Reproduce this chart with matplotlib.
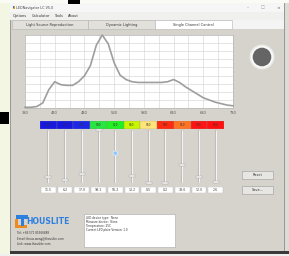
import matplotlib
matplotlib.use('Agg')
import matplotlib.pyplot as plt
from matplotlib.patches import Rectangle, Circle
import numpy as np

W, H = 289, 256

# ---------------- data ----------------
wavelengths = [380, 390, 400, 410, 420, 430, 440, 450, 460, 470, 480, 490, 500,
               510, 520, 530, 540, 550, 560, 570, 580, 590, 600, 610, 620, 630,
               640, 650, 660, 670, 680, 690, 700, 710, 720, 730]
intensity = [0.01, 0.01, 0.02, 0.07, 0.25, 0.36, 0.32, 0.31, 0.31, 0.36, 0.44,
             0.58, 0.86, 1.00, 0.88, 0.62, 0.45, 0.39, 0.36, 0.35, 0.35, 0.35,
             0.35, 0.35, 0.36, 0.39, 0.35, 0.29, 0.24, 0.19, 0.14, 0.11, 0.08,
             0.06, 0.04, 0.03]
x_tick_labels = ['380', '430', '480', '530', '580', '630', '680', '730']
channel_labels = ['420', '450', '470', '500', '520', '540', '560', '590', '610', '630', '660']
channel_colors = ['#1818e0', '#1818e0', '#1c28e6', '#28e640', '#22f022', '#c8f500',
                  '#ffe47a', '#ff2a10', '#ff7424', '#ff1414', '#ff1010']
channel_values = [11.5, 6.2, 17.0, 99.1, 56.2, 13.2, 0.5, 0.2, 33.6, 12.0, 2.6]
selected_channel = 4
menu_items = ['Options', 'Calculator', 'Tools', 'About']
tab_names = ['Light Source Reproduction', 'Dynamic Lighting', 'Single Channel Control']
info_lines = ['LED device type:  None', 'Measure device:  None',
              'Temperature: 25C', 'Current LED plate Version: 1.0']
contact_lines = ['Tel: +86 571 85366888', 'Email: thous.wang@thouslite.com',
                 'Link: www.thouslite.com']
title_text = 'LEDNavigator LC V5.0'

# ---------------- figure ----------------
fig = plt.figure(figsize=(W / 100, H / 100), dpi=100)
fig.patch.set_facecolor('#f3f6e2')
bg = fig.add_axes([0, 0, 1, 1])
bg.set_xlim(0, W)
bg.set_ylim(H, 0)
bg.axis('off')


def px_axes(x0, y0, x1, y1):
    return fig.add_axes([x0 / W, 1 - y1 / H, (x1 - x0) / W, (y1 - y0) / H])


def rect(x0, y0, x1, y1, fc, ec='none', lw=0, z=1):
    bg.add_patch(Rectangle((x0, y0), x1 - x0, y1 - y0, facecolor=fc,
                           edgecolor=ec, linewidth=lw, zorder=z))


def txt(x, y, s, size=3, color='#333333', ha='left', **kw):
    bg.text(x, y, s, fontsize=size, color=color, ha=ha, va='center', zorder=5, **kw)


# outer decorations
rect(0, 0, 289, 3, '#fbfbf6')
rect(68, 0, 80, 3.5, 'black', z=2)
rect(0, 112, 9, 124, 'black')
rect(284, 3, 289, 251, '#dddbd6')

# window
rect(10, 3, 284, 251, '#d6d3cc', ec='#8c8c8c', lw=0.6)
rect(10.4, 3.4, 283.6, 12, '#f6f6f6')
rect(12.5, 6, 15, 9, '#e0a030')
rect(12.5, 6, 13.8, 7.5, '#3070d0', z=2)
txt(16, 7.8, title_text, size=2.4, color='#444444')
txt(248, 7.8, '\u2013', size=3, color='#666666', ha='center')
txt(263, 7.8, '\u25a1', size=3, color='#999999', ha='center')
txt(278, 7.8, '\u00d7', size=3.2, color='#555555', ha='center')

rect(10.4, 12, 283.6, 19.5, '#f0f0ef')
for s, x in zip(menu_items, [13, 32, 54, 68]):
    txt(x, 15.6, s, size=2.6, color='#333333')

# tabs
rect(232, 20, 283.6, 29, '#f4f4f4')
for s, (x0, x1) in zip(tab_names, [(12, 88), (88, 155), (155, 232)]):
    fc = 'white' if s == tab_names[-1] else '#e2e0db'
    rect(x0, 20, x1, 29, fc, ec='#b4b4b4', lw=0.4, z=2)
    txt((x0 + x1) / 2, 24.6, s, size=2.5, color='#333333', ha='center')
rect(11, 29, 283, 29.4, '#bdbab4')

# ---------------- spectrum plot ----------------
ax = px_axes(25, 35, 233, 108)
ax.set_facecolor('white')
ax.plot(wavelengths, intensity, color='#9e9e9e', lw=1.2, zorder=3, clip_on=False)
ax.set_xlim(380, 730)
ymax = 1.0
ax.set_ylim(0, ymax)
ax.set_xticks(np.arange(380, 731, 25), minor=True)
ax.set_xticks(np.arange(380, 731, 50))
ax.set_xticklabels(x_tick_labels)
ax.set_yticks(np.linspace(0, ymax, 10))
ax.set_yticklabels([])
ax.grid(True, which='both', color='#d6d6d6', lw=0.45)
ax.tick_params(axis='both', which='both', length=0, pad=2.5, labelsize=2.6,
               labelcolor='#555555')
for sp in ax.spines.values():
    sp.set_color('#b0b0b0')
    sp.set_linewidth(0.4)

# indicator lamp
bg.add_patch(Circle((262, 57), 12.5, facecolor='#ecebe8', edgecolor='none', zorder=2))
bg.add_patch(Circle((262, 57), 11, facecolor='#fafafa', edgecolor='none', zorder=2))
bg.add_patch(Circle((262, 57), 9.3, facecolor='#656565', edgecolor='none', zorder=3))

# ---------------- channel colour bar ----------------
n = len(channel_labels)
idx = np.arange(n)
cax = px_axes(40, 121, 224, 129)
cax.bar(idx, [1] * n, width=1.0, color=channel_colors, edgecolor='#888888', linewidth=0.2)
cax.set_xlim(-0.5, n - 0.5)
cax.set_ylim(0, 1)
cax.axis('off')
for i, s in enumerate(channel_labels):
    cax.text(i, 0.5, s, fontsize=2.1, color='#333333', ha='center', va='center')

# ---------------- sliders ----------------
sax = px_axes(40, 130, 224, 183)
sax.set_xlim(-0.5, n - 0.5)
sax.set_ylim(0, 100)
sax.axis('off')
sax.vlines(idx, 0, 100, color='#bebbb5', lw=1.5, zorder=1)
sax.vlines(idx, 0, 100, color='#f4f4f4', lw=0.8, zorder=2)
thumb = [(-2.6, -1), (2.6, -1), (2.6, 1), (-2.6, 1), (-2.6, -1)]
others = [i for i in idx if i != selected_channel]
sax.plot(others, [channel_values[i] for i in others], linestyle='none',
         marker=thumb, markersize=4.6, markerfacecolor='#f8f8f8',
         markeredgecolor='#9c9c9c', markeredgewidth=0.3, zorder=3, clip_on=False)
sax.scatter([selected_channel], [channel_values[selected_channel]], s=16,
            color='#d3e8fa', edgecolor='none', zorder=3)
sax.scatter([selected_channel], [channel_values[selected_channel]], s=6,
            color='#8cc6f2', edgecolor='none', zorder=4)

# value boxes
vax = px_axes(40, 187, 224, 193)
vax.set_xlim(-0.5, n - 0.5)
vax.set_ylim(0, 1)
vax.axis('off')
for i, v in enumerate(channel_values):
    vax.add_patch(Rectangle((i - 0.44, 0), 0.88, 1, facecolor='white',
                            edgecolor='#b8b8b8', linewidth=0.3))
    vax.text(i, 0.5, f'{v:.1f}', fontsize=2.3, color='#444444', ha='center', va='center')

# buttons
for (y0, y1), s in zip([(171, 179), (186, 194)], ['Reset', 'Save...']):
    rect(242, y0, 273, y1, '#e8e6e2', ec='#9a9a9a', lw=0.4, z=2)
    txt(257.5, (y0 + y1) / 2, s, size=2.5, color='#333333', ha='center')

# ---------------- logo & info ----------------
rect(16, 215, 28, 218.5, '#2d7fe0', z=3)
rect(20.5, 218, 24, 226, '#2d7fe0', z=3)
rect(15, 218.5, 18.3, 228, '#f08a20', z=2)
rect(15, 225, 27, 228, '#f08a20', z=2)
txt(26.5, 221.8, 'HOUSLITE', size=5.6, color='#2d7fe0', weight='bold')
for k, s in enumerate(contact_lines):
    txt(17, 233.5 + 5.2 * k, s, size=2.0, color='#333333')

rect(84, 214, 175, 247, 'white', ec='#a8a8a8', lw=0.4, z=2)
for k, s in enumerate(info_lines):
    txt(86, 217.5 + 4.3 * k, s, size=2.0, color='#333333')

# bottom shadow
rect(10, 250.5, 289, 253.5, '#3a3a3a', z=3)
rect(0, 253.5, 289, 256, '#eeeeee', z=3)

fig.savefig('out.png', dpi=100)
